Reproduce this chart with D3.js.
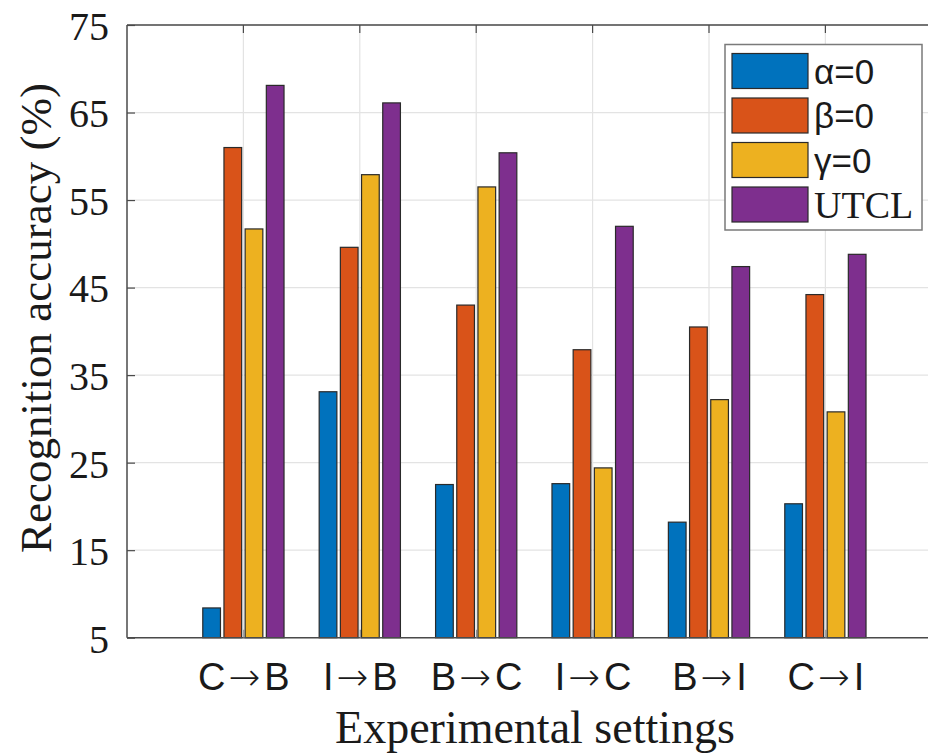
<!DOCTYPE html>
<html>
<head>
<meta charset="utf-8">
<script src="https://cdn.jsdelivr.net/npm/d3@7/dist/d3.min.js"></script>
<style>
  body { margin: 0; background: #fff; }
  svg { display: block; }
</style>
</head>
<body>
<div class="chart"></div>
<script>
// data
var categories = ["C\u2192B", "I\u2192B", "B\u2192C", "I\u2192C", "B\u2192I", "C\u2192I"];
var seriesNames = ["\u03b1=0", "\u03b2=0", "\u03b3=0", "UTCL"];
var alphaZero = [8.4, 33.1, 22.5, 22.6, 18.2, 20.3];
var betaZero  = [61.0, 49.6, 43.0, 37.9, 40.5, 44.2];
var gammaZero = [51.7, 57.9, 56.5, 24.4, 32.2, 30.8];
var utcl      = [68.1, 66.1, 60.4, 52.0, 47.4, 48.8];
var yTicks = [5, 15, 25, 35, 45, 55, 65, 75];

var seriesValues = [alphaZero, betaZero, gammaZero, utcl];
var colors = ["#0072BD", "#D95319", "#EDB120", "#7E2F8E"];

var width = 928, height = 755;
var plotLeft = 127, plotTop = 25, plotBottom = 637.7;

var svg = d3.select(".chart")
    .append("svg")
    .attr("width", width)
    .attr("height", height);

// x in matlab-like units: categories at 1..6, limits 0..7
var x = d3.scaleLinear().domain([0, 7]).range([plotLeft, plotLeft + 7 * 116.4]);
var y = d3.scaleLinear().domain([5, 75]).range([plotBottom, plotTop]);

var serif = "'Liberation Serif', 'Times New Roman', serif";
var sans = "'Liberation Sans', Arial, sans-serif";

// grid
var grid = svg.append("g").attr("class", "grid");
grid.selectAll("line.h")
    .data(yTicks)
    .enter().append("line")
    .attr("class", "h")
    .attr("x1", plotLeft).attr("x2", width)
    .attr("y1", function(d) { return y(d); })
    .attr("y2", function(d) { return y(d); })
    .style("stroke", "#e3e3e3")
    .style("stroke-width", 1.2);

grid.selectAll("line.v")
    .data(categories)
    .enter().append("line")
    .attr("class", "v")
    .attr("x1", function(d, i) { return x(i + 1); })
    .attr("x2", function(d, i) { return x(i + 1); })
    .attr("y1", plotTop).attr("y2", plotBottom)
    .style("stroke", "#e3e3e3")
    .style("stroke-width", 1.2);

// bars
var slot = 0.182, barW = 0.152;
var bars = svg.append("g").attr("class", "bars");
seriesValues.forEach(function(vals, s) {
    bars.append("g")
        .selectAll("rect")
        .data(vals)
        .enter().append("rect")
        .attr("x", function(d, i) { return x(i + 1 + (s - 1.5) * slot - barW / 2); })
        .attr("width", x(barW) - x(0))
        .attr("y", function(d) { return y(d); })
        .attr("height", function(d) { return y(5) - y(d); })
        .style("fill", colors[s])
        .style("stroke", "#2a2a2a")
        .style("stroke-width", 1.2);
});

// axes box lines
var axisColor = "#4a4a4a";
svg.append("line")
    .attr("x1", plotLeft).attr("x2", plotLeft)
    .attr("y1", plotTop).attr("y2", plotBottom)
    .style("stroke", axisColor).style("stroke-width", 1.5);
svg.append("line")
    .attr("x1", plotLeft).attr("x2", width)
    .attr("y1", plotTop).attr("y2", plotTop)
    .style("stroke", axisColor).style("stroke-width", 1.5);
svg.append("line")
    .attr("x1", plotLeft).attr("x2", width)
    .attr("y1", plotBottom).attr("y2", plotBottom)
    .style("stroke", axisColor).style("stroke-width", 1.5);

// y axis ticks + labels
var yAxis = d3.axisLeft(y).tickValues(yTicks).tickSize(-8).tickPadding(18);
var gy = svg.append("g")
    .attr("transform", "translate(" + plotLeft + ",0)")
    .call(yAxis);
gy.select(".domain").remove();
gy.selectAll(".tick line").style("stroke", axisColor).style("stroke-width", 1.2);
gy.selectAll(".tick text")
    .style("font-family", serif)
    .style("font-size", "40px")
    .style("fill", "#1a1a1a")
    .attr("dy", "0.36em");

// x ticks (top and bottom, pointing inward)
var xAxis = d3.axisBottom(x).tickValues([1, 2, 3, 4, 5, 6])
    .tickFormat(function(d) { return categories[d - 1]; })
    .tickSize(-8).tickPadding(25);
var gx = svg.append("g")
    .attr("transform", "translate(0," + plotBottom + ")")
    .call(xAxis);
gx.select(".domain").remove();
gx.selectAll(".tick line").style("stroke", "#888").style("stroke-width", 1.2);
gx.selectAll(".tick text")
    .style("font-family", sans)
    .style("font-size", "38px")
    .style("fill", "#1a1a1a")
    .text(null)
    .each(function(d) {
        var parts = categories[d - 1].split("\u2192");
        var t = d3.select(this);
        t.append("tspan").text(parts[0]);
        t.append("tspan").attr("dx", 3)
            .style("font-family", "'DejaVu Sans'").style("font-size", "38px").style("font-weight", 300)
            .text("\u2192");
        t.append("tspan").attr("dx", 4).text(parts[1]);
    });

svg.append("g").selectAll("line")
    .data([1, 2, 3, 4, 5, 6])
    .enter().append("line")
    .attr("x1", function(d) { return x(d); })
    .attr("x2", function(d) { return x(d); })
    .attr("y1", plotTop).attr("y2", plotTop + 8)
    .style("stroke", axisColor).style("stroke-width", 1.2);

// axis titles
svg.append("text")
    .attr("x", 535)
    .attr("y", 743)
    .attr("text-anchor", "middle")
    .style("font-family", serif)
    .style("font-size", "46px")
    .style("fill", "#1a1a1a")
    .text("Experimental settings");

svg.append("text")
    .attr("transform", "translate(51," + 318 + ") rotate(-90)")
    .attr("text-anchor", "middle")
    .style("font-family", serif)
    .style("font-size", "45px")
    .style("fill", "#1a1a1a")
    .text("Recognition accuracy (%)");

// legend
var legend = svg.append("g").attr("class", "legend");
legend.append("rect")
    .attr("x", 725).attr("y", 44.5)
    .attr("width", 197).attr("height", 185.5)
    .style("fill", "#fff")
    .style("stroke", "#7a7a7a")
    .style("stroke-width", 1.5);

var rows = legend.selectAll("g.row")
    .data(seriesNames)
    .enter().append("g")
    .attr("class", "row")
    .attr("transform", function(d, i) { return "translate(732," + (53.5 + i * 44.5) + ")"; });

rows.append("rect")
    .attr("width", 76).attr("height", 35)
    .style("fill", function(d, i) { return colors[i]; })
    .style("stroke", "#2a2a2a")
    .style("stroke-width", 1.2);

rows.append("text")
    .attr("x", 82)
    .attr("y", 17.5)
    .attr("dy", "0.36em")
    .style("font-family", function(d, i) { return i == 3 ? serif : sans; })
    .style("font-size", function(d, i) { return i == 3 ? "38px" : "35px"; })
    .style("fill", "#1a1a1a")
    .text(function(d) { return d; });
</script>
</body>
</html>
